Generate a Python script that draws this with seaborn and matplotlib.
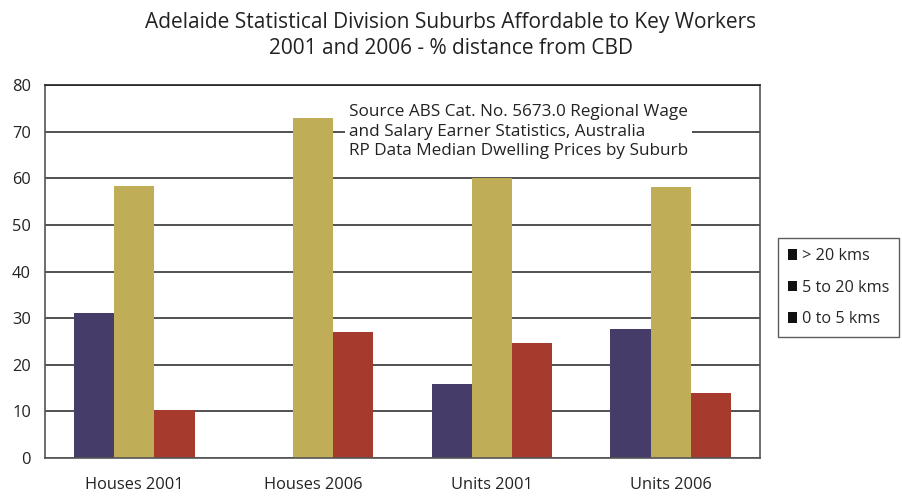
import seaborn as sns
import pandas as pd
import matplotlib
matplotlib.use("Agg")
import matplotlib.pyplot as plt
from matplotlib.patches import Patch

# data
categories = ["Houses 2001", "Houses 2006", "Units 2001", "Units 2006"]
series = ["> 20 kms", "5 to 20 kms", "0 to 5 kms"]
far = [31.1, 0, 15.9, 27.7]
middle = [58.4, 73.0, 60.1, 58.2]
near = [10.3, 27.0, 24.7, 13.9]

colors = ["#463C69", "#BFAD58", "#A63A2C"]

rows = []
for name, vals in zip(series, [far, middle, near]):
    for cat, v in zip(categories, vals):
        rows.append({"Category": cat, "Distance": name, "Percent": v})
df = pd.DataFrame(rows)

sns.set_style("white")
plt.rcParams["font.family"] = ["Open Sans", "DejaVu Sans"]

fig = plt.figure(figsize=(9.02, 4.96), dpi=100)
ax = fig.add_axes([0.0499, 0.0766, 0.7927, 0.752])

sns.barplot(data=df, x="Category", y="Percent", hue="Distance",
            hue_order=series, order=categories, palette=colors,
            width=0.675, saturation=1, linewidth=0, legend=False, ax=ax)

ax.set_ylim(0, 80)
ax.set_xlim(-0.5, 3.5)
ax.set_yticks(range(0, 81, 10))
ax.yaxis.grid(True, color="#333333", linewidth=1.2)
ax.set_axisbelow(True)
ax.set_xlabel("")
ax.set_ylabel("")
for s in ax.spines.values():
    s.set_color("#555555")
    s.set_linewidth(1.2)
ax.spines["top"].set_color("#222222")
ax.tick_params(axis="both", length=0, labelsize=11.8, colors="#222222")
ax.tick_params(axis="x", pad=14)
ax.tick_params(axis="y", pad=10)

ax.text(1.2, 70, "Source ABS Cat. No. 5673.0 Regional Wage\n"
        "and Salary Earner Statistics, Australia\n"
        "RP Data Median Dwelling Prices by Suburb",
        ha="left", va="center", fontsize=12.3, color="#222222",
        linespacing=1.32,
        bbox=dict(facecolor="white", edgecolor="none", pad=3))

fig.suptitle("Adelaide Statistical Division Suburbs Affordable to Key Workers\n"
             "2001 and 2006 - % distance from CBD",
             x=0.5, y=0.975, fontsize=15, color="#222222", linespacing=1.3)

handles = [Patch(facecolor="#111111", edgecolor="none") for _ in series]
leg = fig.legend(handles, series, loc="center left",
                 bbox_to_anchor=(0.8625, 0.42), frameon=True, fancybox=False,
                 fontsize=11.7, handlelength=0.6, handleheight=0.6,
                 handletextpad=0.3, labelspacing=0.95, borderpad=0.6,
                 borderaxespad=0)
leg.get_frame().set_edgecolor("#333333")
leg.get_frame().set_linewidth(1.0)

fig.savefig("out.png", dpi=100)
